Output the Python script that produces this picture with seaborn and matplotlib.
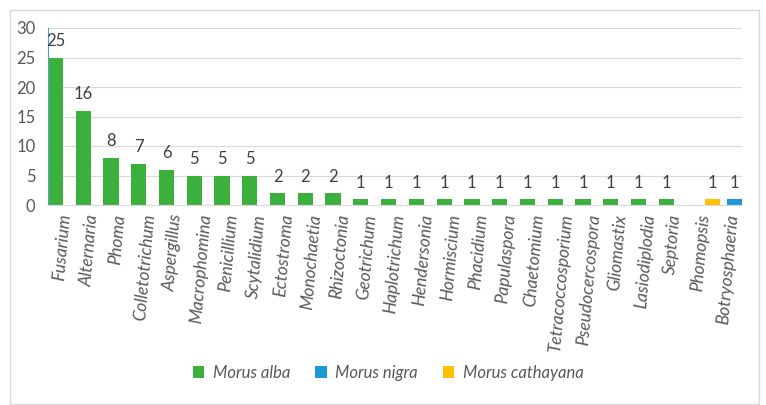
import matplotlib
matplotlib.use("Agg")
import matplotlib.pyplot as plt
import seaborn as sns
import pandas as pd
from matplotlib.patches import Rectangle, Patch

genera = ["Fusarium", "Alternaria", "Phoma", "Colletotrichum", "Aspergillus",
          "Macrophomina", "Penicillium", "Scytalidium", "Ectostroma", "Monochaetia",
          "Rhizoctonia", "Geotrichum", "Haplotrichum", "Hendersonia", "Hormiscium",
          "Phacidium", "Papulaspora", "Chaetomium", "Tetracoccosporium",
          "Pseudocercospora", "Gliomastix", "Lasiodiplodia", "Septoria",
          "Phomopsis", "Botryosphaeria"]
counts = [25, 16, 8, 7, 6, 5, 5, 5, 2, 2, 2, 1, 1, 1, 1, 1, 1, 1, 1, 1, 1, 1, 1, 1, 1]
hosts = ["Morus alba"] * 23 + ["Morus cathayana", "Morus nigra"]
host_order = ["Morus alba", "Morus nigra", "Morus cathayana"]
host_colors = ["#3cb03c", "#1a9ad6", "#ffc000"]

df = pd.DataFrame({"genus": genera, "count": counts, "host": hosts})

sns.set_theme(style="white")
plt.rcParams["font.family"] = ["Lato", "DejaVu Sans"]

fig = plt.figure(figsize=(7.66, 4.05), dpi=100)
ax = fig.add_axes([48/766, 1 - 205/405, (742 - 48)/766, (205 - 28)/405])

sns.barplot(data=df, x="genus", y="count", hue="host", order=genera,
            hue_order=host_order, palette=host_colors, dodge=False,
            width=0.55, ax=ax, legend=False, saturation=1, linewidth=0)

# Excel-style series offsets within each category slot
offsets = {"Morus alba": -0.23, "Morus nigra": 0.24, "Morus cathayana": 0.43}
for cont, h in zip(ax.containers, host_order):
    for p in cont.patches:
        p.set_x(p.get_x() + offsets[h])
        p.set_edgecolor("none")
    ax.bar_label(cont, padding=6, fontsize=12, color="#404040")

ax.set_ylim(0, 30)
ax.set_yticks(range(0, 31, 5))
ax.set_xlim(-0.5, len(genera) - 0.5)
ax.yaxis.grid(True, color="#d9d9d9", linewidth=0.8)
ax.set_axisbelow(True)
ax.set_xlabel("")
ax.set_ylabel("")
for s in ["top", "right"]:
    ax.spines[s].set_visible(False)
ax.spines["left"].set_color("#5b9bd5")
ax.spines["left"].set_linewidth(0.8)
ax.spines["bottom"].set_color("#d9d9d9")
ax.spines["bottom"].set_linewidth(0.8)
ax.tick_params(axis="y", labelsize=12, labelcolor="#595959", length=0, pad=9)
ax.tick_params(axis="x", length=0, pad=6)
ax.set_xticks(range(len(genera)))
ax.set_xticklabels(genera, rotation=85, fontsize=12.5, color="#595959",
                   style="italic", ha="center", va="top")

handles = [Patch(facecolor=c, edgecolor="none") for c in host_colors]
fig.legend(handles, host_order, loc="center", bbox_to_anchor=(388/766, 1 - 373/405),
           ncol=3, frameon=False, handlelength=0.7, handleheight=0.7,
           handletextpad=0.5, columnspacing=1.5,
           prop={"style": "italic", "size": 12}, labelcolor="#595959")

fig.patches.append(Rectangle((10/766, 1/405), 749/766, 394/405, transform=fig.transFigure,
                             fill=False, edgecolor="#d9d9d9", linewidth=1))

fig.savefig("out.png", dpi=100)
